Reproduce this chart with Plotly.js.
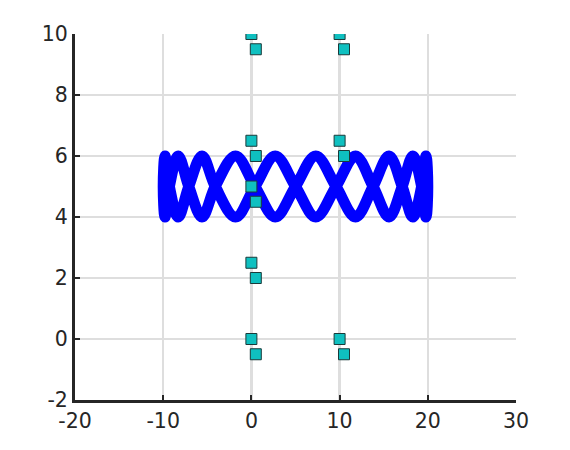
<!DOCTYPE html>
<html>
<head>
<meta charset="utf-8">
<script src="https://cdn.plot.ly/plotly-3.0.1.min.js"></script>
<style>
  html, body { margin: 0; padding: 0; background: #fff; }
  #chart { width: 570px; height: 450px; }
</style>
</head>
<body>
<div id="chart"></div>
<script>
// Thick blue band: two strands crossing at y=5, read as crossings and peaks
const curveX = [-10, -9.8, -9.3, -8.3, -7.1, -5.6, -4.1, -1.8, 0.4, 2.7, 5, 7.3, 9.6, 11.8, 13.8, 15.6, 17.1, 18.3, 19.3, 19.8, 20,
                19.8, 19.3, 18.3, 17.1, 15.6, 13.8, 11.8, 9.6, 7.3, 5, 2.7, 0.4, -1.8, -4.1, -5.6, -7.1, -8.3, -9.3, -9.8, -10];
const curveY = [5, 4, 5, 6, 5, 4, 5, 6, 5, 4, 5, 6, 5, 4, 5, 6, 5, 4, 5, 6, 5,
                4, 5, 6, 5, 4, 5, 6, 5, 4, 5, 6, 5, 4, 5, 6, 5, 4, 5, 6, 5];

// cyan squares
const sqX = [0, 0.5, 10, 10.5, 0, 0.5, 10, 10.5, 0, 0.5, 0, 0.5, 0, 0.5, 10, 10.5];
const sqY = [10, 9.5, 10, 9.5, 6.5, 6, 6.5, 6, 5, 4.5, 2.5, 2, 0, -0.5, 0, -0.5];

const xTicks = [-20, -10, 0, 10, 20, 30];
const xTickText = ['-20', '-10', '0', '10', '20', '30'];
const yTicks = [-2, 0, 2, 4, 6, 8, 10];
const yTickText = ['-2', '0', '2', '4', '6', '8', '10'];

const axisCommon = {
  showline: true, linewidth: 3, linecolor: '#262626',
  ticks: 'inside', ticklen: 5, tickwidth: 2, tickcolor: '#262626',
  showgrid: true, gridcolor: '#dedede', gridwidth: 2.5,
  zeroline: false, mirror: false,
  tickfont: { family: 'DejaVu Sans', size: 20.5, color: '#262626' }
};

const traces = [
  { x: curveX, y: curveY, type: 'scatter', mode: 'lines',
    line: { color: '#0000ff', width: 11, shape: 'spline', smoothing: 1 } },
  { x: sqX, y: sqY, type: 'scatter', mode: 'markers',
    marker: { symbol: 'square', size: 11, color: '#0fc0c0', line: { color: '#1a3a3a', width: 1 } } }
];

const layout = {
  width: 570, height: 450,
  margin: { l: 75, r: 54, t: 34, b: 50 },
  paper_bgcolor: '#ffffff', plot_bgcolor: '#ffffff',
  showlegend: false, hovermode: false,
  xaxis: Object.assign({}, axisCommon, { range: [-20, 30], tickvals: xTicks, ticktext: xTickText }),
  yaxis: Object.assign({}, axisCommon, { range: [-2, 10], tickvals: yTicks, ticktext: yTickText })
};

Plotly.newPlot('chart', traces, layout, { staticPlot: true, displayModeBar: false });
</script>
</body>
</html>
